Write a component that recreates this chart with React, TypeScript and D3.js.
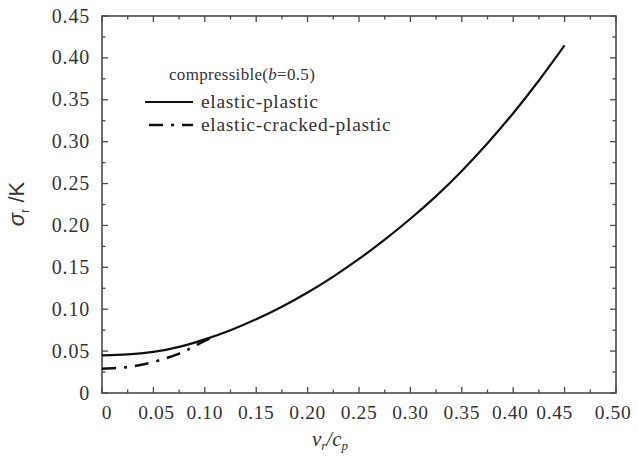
import React from "react";
import * as d3 from "d3";

const xPlastic = [0, 0.025, 0.05, 0.075, 0.1, 0.125, 0.15, 0.175, 0.2, 0.225, 0.25, 0.275, 0.3, 0.325, 0.35, 0.375, 0.4, 0.425, 0.45];
const yPlastic = [0.045, 0.046, 0.049, 0.055, 0.064, 0.075, 0.088, 0.103, 0.12, 0.139, 0.16, 0.183, 0.208, 0.235, 0.265, 0.298, 0.334, 0.373, 0.415];
const xCracked = [0, 0.025, 0.05, 0.075, 0.09, 0.11];
const yCracked = [0.029, 0.031, 0.037, 0.047, 0.056, 0.068];
const xTicks = [0, 0.05, 0.1, 0.15, 0.2, 0.25, 0.3, 0.35, 0.4, 0.45, 0.5];
const xTickLabels = ["0", "0.05", "0.10", "0.15", "0.20", "0.25", "0.30", "0.35", "0.40", "0.45", "0.50"];
const yTicks = [0, 0.05, 0.1, 0.15, 0.2, 0.25, 0.3, 0.35, 0.4, 0.45];
const yTickLabels = ["0", "0.05", "0.10", "0.15", "0.20", "0.25", "0.30", "0.35", "0.40", "0.45"];
const legendTitle = "compressible";
const seriesNames = ["elastic-plastic", "elastic-cracked-plastic"];

const W = 638, H = 456;
const L = 102, R = 616, T = 16, B = 393;
// label position quirks from the source image
const xLabelShift: Record<string, number> = { "0": 5, "0.05": 3, "0.40": -3, "0.45": -10, "0.50": -3 };

export default function App() {
  const x = d3.scaleLinear().domain([0, 0.5]).range([L, R]);
  const y = d3.scaleLinear().domain([0, 0.45]).range([B, T]);
  const line = d3.line<[number, number]>().x(d => x(d[0])).y(d => y(d[1])).curve(d3.curveNatural);
  const pPlastic = line(xPlastic.map((v, i) => [v, yPlastic[i]]) as [number, number][]) || "";
  const pCracked = line(xCracked.map((v, i) => [v, yCracked[i]]) as [number, number][]) || "";
  const xMinor = d3.range(0, 0.5001, 0.025);
  const yMinor = d3.range(0, 0.4501, 0.025);
  const isMajor = (v: number) => Math.abs(v / 0.05 - Math.round(v / 0.05)) < 1e-6;
  const frame = "#4a4a4a";
  const serif = "'Liberation Serif', 'Times New Roman', serif";
  const sans = "'Liberation Sans', Arial, sans-serif";

  return (
    <svg width={W} height={H} style={{ position: "absolute", left: 0, top: 0, background: "#fff" }}>
      <rect x={0} y={0} width={W} height={H} fill="#fff" />
      {xMinor.map((v, i) => {
        const len = isMajor(v) ? 6 : 3.5;
        return (
          <g key={"xt" + i} stroke={frame} strokeWidth={1.3}>
            <line x1={x(v)} x2={x(v)} y1={B} y2={B - len} />
            <line x1={x(v)} x2={x(v)} y1={T} y2={T + len} />
          </g>
        );
      })}
      {yMinor.map((v, i) => {
        const len = isMajor(v) ? 6 : 3.5;
        return (
          <g key={"yt" + i} stroke={frame} strokeWidth={1.3}>
            <line x1={L} x2={L + len} y1={y(v)} y2={y(v)} />
            <line x1={R} x2={R - len} y1={y(v)} y2={y(v)} />
          </g>
        );
      })}
      <rect x={L} y={T} width={R - L} height={B - T} fill="none" stroke={frame} strokeWidth={1.6} />
      {xTicks.map((v, i) => (
        <text key={"xl" + i} x={x(v) + (xLabelShift[xTickLabels[i]] || 0)} y={419} textAnchor="middle"
          fontFamily={serif} fontSize={19.5} letterSpacing={0.6} fill="#333">{xTickLabels[i]}</text>
      ))}
      {yTicks.map((v, i) => (
        <text key={"yl" + i} x={90} y={y(v) + 6.5} textAnchor="end"
          fontFamily={serif} fontSize={20} letterSpacing={0.8} fill="#333">{yTickLabels[i]}</text>
      ))}
      <path d={pPlastic} fill="none" stroke="#111" strokeWidth={2.2} />
      <path d={pCracked} fill="none" stroke="#111" strokeWidth={2.6} strokeDasharray="14,8,3,8" />
      <text x={169} y={80} fontFamily={serif} fontSize={17} letterSpacing={0.3} fill="#333">
        {legendTitle}(<tspan fontStyle="italic">b</tspan>=0.5)
      </text>
      <line x1={145} x2={193} y1={102} y2={102} stroke="#111" strokeWidth={2.2} />
      <text x={201} y={107.5} fontFamily={serif} fontSize={19.5} letterSpacing={0.7} fill="#333">{seriesNames[0]}</text>
      <line x1={145} x2={193} y1={125} y2={125} stroke="#111" strokeWidth={2.6} strokeDasharray="14,8,3,8" strokeDashoffset={-4} />
      <text x={201} y={130.5} fontFamily={serif} fontSize={19.5} letterSpacing={0.7} fill="#333">{seriesNames[1]}</text>
      <text transform="translate(24,204) rotate(-90)" textAnchor="middle" fontFamily={sans} fontSize={22} fill="#333">
        <tspan fontStyle="italic">σ</tspan><tspan fontSize={13} dy={5}>r</tspan><tspan dy={-5}> /K</tspan>
      </text>
      <text x={330} y={446} textAnchor="middle" fontFamily={serif} fontSize={21} fontStyle="italic" fill="#333">
        v<tspan fontSize={13} dy={4}>r</tspan><tspan dy={-4}>/c</tspan><tspan fontSize={13} dy={4}>p</tspan>
      </text>
    </svg>
  );
}
